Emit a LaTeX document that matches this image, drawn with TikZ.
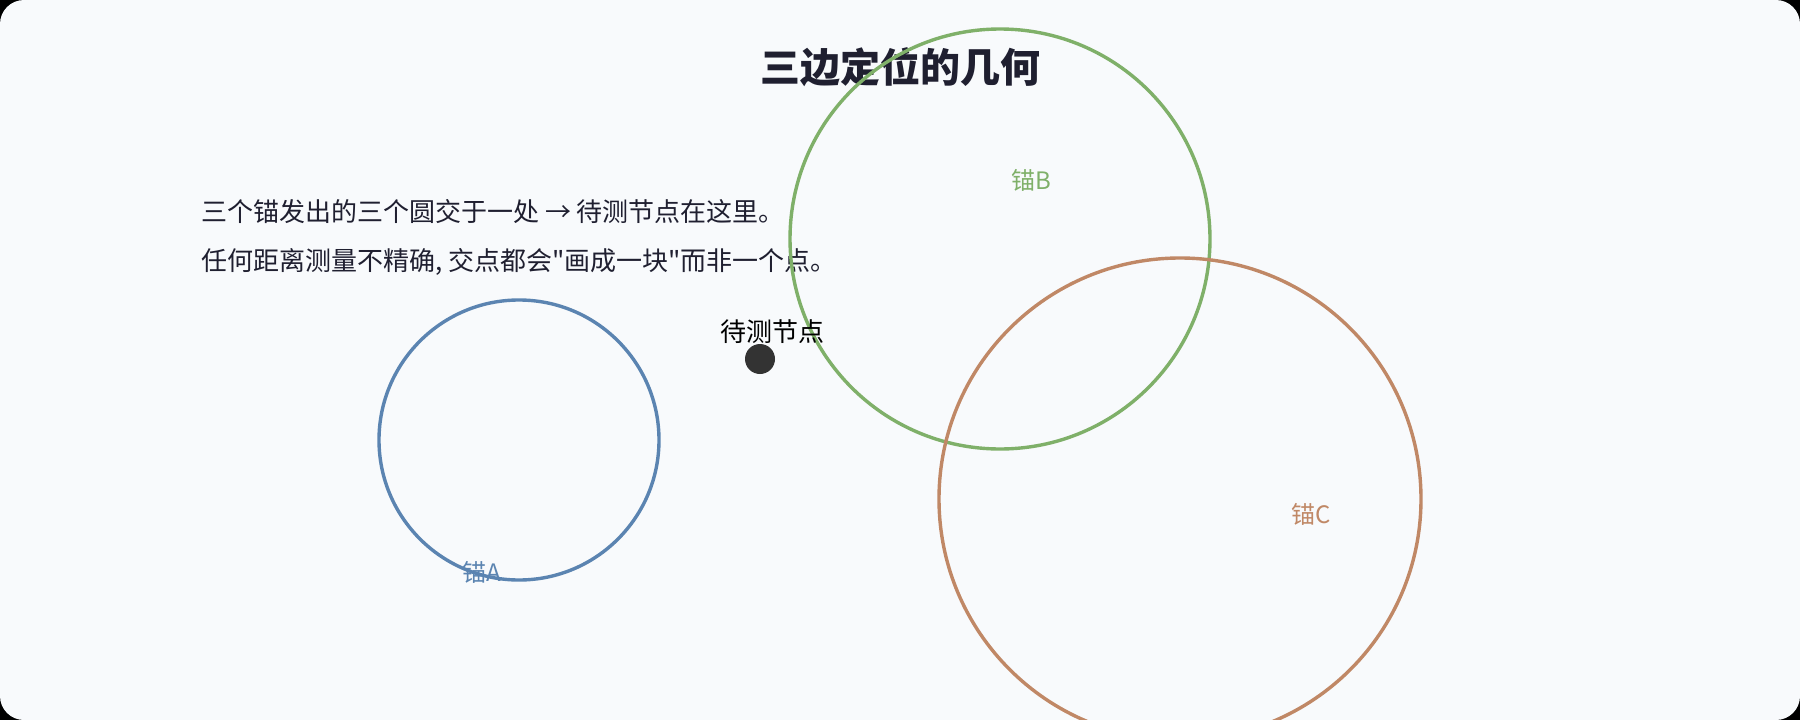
\documentclass[tikz,border=0pt]{standalone}
\usepackage{fontspec}
\newfontfamily\cjk{Noto Sans CJK SC}
\usepackage{tikz}
\usetikzlibrary{positioning}

\definecolor{bgpage}{HTML}{F8FAFC}
\definecolor{inkdark}{HTML}{1F1F30}
\definecolor{ancAcol}{HTML}{5B84B1}
\definecolor{ancBcol}{HTML}{7FB069}
\definecolor{ancCcol}{HTML}{C08866}
\definecolor{dotcol}{HTML}{333333}

\tikzset{
  anchorring/.style = {circle, draw = #1, line width = 3.4pt, inner sep = 0pt},
  anchorlabel/.style = {text = #1, font = \cjk\fontsize{24}{28}\selectfont, inner sep = 0pt},
  note/.style = {text = inkdark, font = \cjk\fontsize{26}{30}\selectfont, anchor = west, inner sep = 0pt}
}

\begin{document}
\begin{tikzpicture}[x = 1pt, y = -1pt]

\fill[black] (0,0) rectangle (1800,720);
\fill[bgpage, rounded corners = 24pt] (0,0) rectangle (1800,720);
\useasboundingbox (0,0) rectangle (1800,720);

\node (title) at (900,67) [text = inkdark, font = \cjk\fontsize{40}{44}\selectfont\bfseries]{三边定位的几何};

\node (line1) at (201,212) [note]{三个锚发出的三个圆交于一处 → 待测节点在这里。};
\node (line2) at (201,262) [note]{任何距离测量不精确, 交点都会"画成一块"而非一个点。};

% the three anchor circles
\node (ancA) at (519,440) [anchorring = ancAcol, minimum size = 280pt]{};
\node (ancB) at (1000,239) [anchorring = ancBcol, minimum size = 420pt]{};
\node (ancC) at (1180,499) [anchorring = ancCcol, minimum size = 482pt]{};

\node (labA) at (482,572) [anchorlabel = ancAcol]{锚A};
\node (labB) at (1031,180) [anchorlabel = ancBcol]{锚B};
\node (labC) at (1311,514) [anchorlabel = ancCcol]{锚C};

% the node to be located
\node (target) at (760,359) [circle, fill = dotcol, minimum size = 30pt, inner sep = 0pt]{};
\node (targetlab) at (772,332) [text = black, font = \cjk\fontsize{26}{30}\selectfont, inner sep = 0pt]{待测节点};

\end{tikzpicture}
\end{document}
